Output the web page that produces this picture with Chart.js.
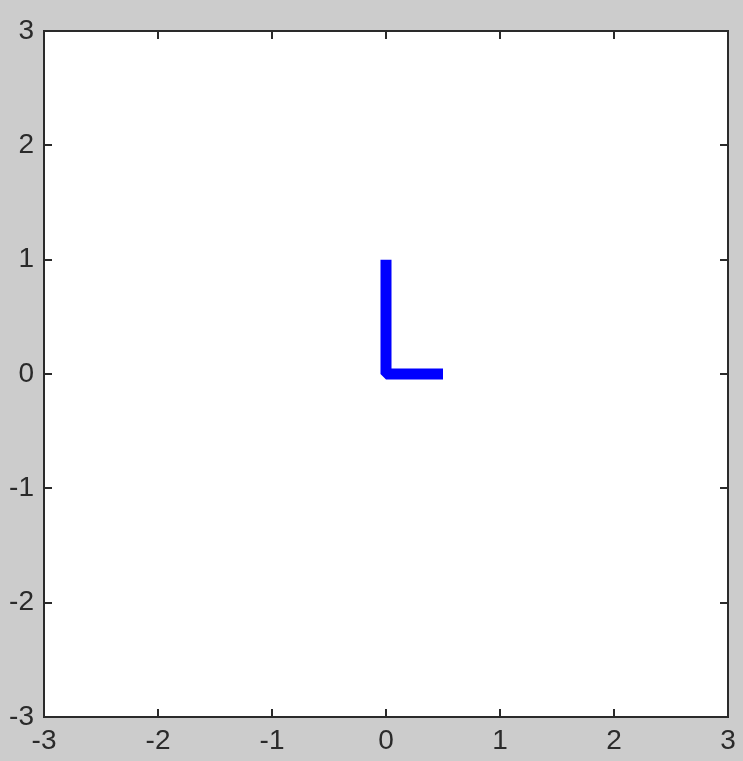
<!DOCTYPE html>
<html>
<head>
<meta charset="utf-8">
<script src="https://cdn.jsdelivr.net/npm/chart.js@4/dist/chart.umd.min.js"></script>
<style>
  html, body { margin: 0; padding: 0; background: #cccccc; }
  #wrap { width: 743px; height: 761px; }
</style>
</head>
<body>
<div id="wrap"><canvas id="chart_L"></canvas></div>
<script>
// axis ticks
var xTicks = [-3, -2, -1, 0, 1, 2, 3];
var yTicks = [-3, -2, -1, 0, 1, 2, 3];

// the "L" polyline
var lineX = [0, 0, 0.5];
var lineY = [1, 0, 0];

var points = lineX.map(function (x, i) { return { x: x, y: lineY[i] }; });

// grey figure background, white axes box
var boxPlugin = {
    id: 'boxPlugin',
    beforeDraw: function (chart) {
        var c = chart.ctx, a = chart.chartArea;
        c.save();
        c.fillStyle = '#cccccc';
        c.fillRect(0, 0, chart.width, chart.height);
        c.fillStyle = '#ffffff';
        c.fillRect(a.left, a.top, a.right - a.left, a.bottom - a.top);
        c.restore();
    },
    afterDraw: function (chart) {
        var c = chart.ctx, a = chart.chartArea;
        var xs = chart.scales.x, ys = chart.scales.y;
        var len = 8;
        c.save();
        c.strokeStyle = '#2a2a2a';
        c.lineWidth = 2;
        c.beginPath();
        //tick marks pointing inwards on all four sides
        xTicks.forEach(function (v) {
            var px = Math.round(xs.getPixelForValue(v));
            c.moveTo(px, a.bottom); c.lineTo(px, a.bottom - len);
            c.moveTo(px, a.top); c.lineTo(px, a.top + len);
        });
        yTicks.forEach(function (v) {
            var py = Math.round(ys.getPixelForValue(v));
            c.moveTo(a.left, py); c.lineTo(a.left + len, py);
            c.moveTo(a.right, py); c.lineTo(a.right - len, py);
        });
        c.stroke();
        c.strokeRect(a.left, a.top, a.right - a.left, a.bottom - a.top);
        c.restore();
    }
};

var tickFont = { family: '"Liberation Sans", sans-serif', size: 28 };

var ctxL = document.getElementById('chart_L').getContext('2d');
var chartL = new Chart(ctxL, {
    type: 'line',
    data: {
        datasets: [{
            data: points,
            borderColor: '#0000ff',
            borderWidth: 11,
            borderJoinStyle: 'bevel',
            borderCapStyle: 'butt',
            pointRadius: 0,
            tension: 0,
            fill: false
        }]
    },
    options: {
        responsive: true,
        maintainAspectRatio: false,
        animation: false,
        layout: { padding: { top: 31, right: 15, left: 0, bottom: 0 } },
        plugins: { legend: { display: false }, tooltip: { enabled: false } },
        scales: {
            x: {
                type: 'linear',
                min: -3, max: 3,
                afterFit: function (s) { s.height = 44; },
                afterBuildTicks: function (s) { s.ticks = xTicks.map(function (v) { return { value: v }; }); },
                grid: { display: false, drawTicks: false },
                border: { display: false },
                ticks: { font: tickFont, color: '#2a2a2a', padding: 7, maxRotation: 0,
                         callback: function (v) { return String(v); } }
            },
            y: {
                type: 'linear',
                min: -3, max: 3,
                afterFit: function (s) { s.width = 44; },
                afterBuildTicks: function (s) { s.ticks = yTicks.map(function (v) { return { value: v }; }); },
                grid: { display: false, drawTicks: false },
                border: { display: false },
                ticks: { font: tickFont, color: '#2a2a2a', padding: 10,
                         callback: function (v) { return String(v); } }
            }
        }
    },
    plugins: [boxPlugin]
});
</script>
</body>
</html>
